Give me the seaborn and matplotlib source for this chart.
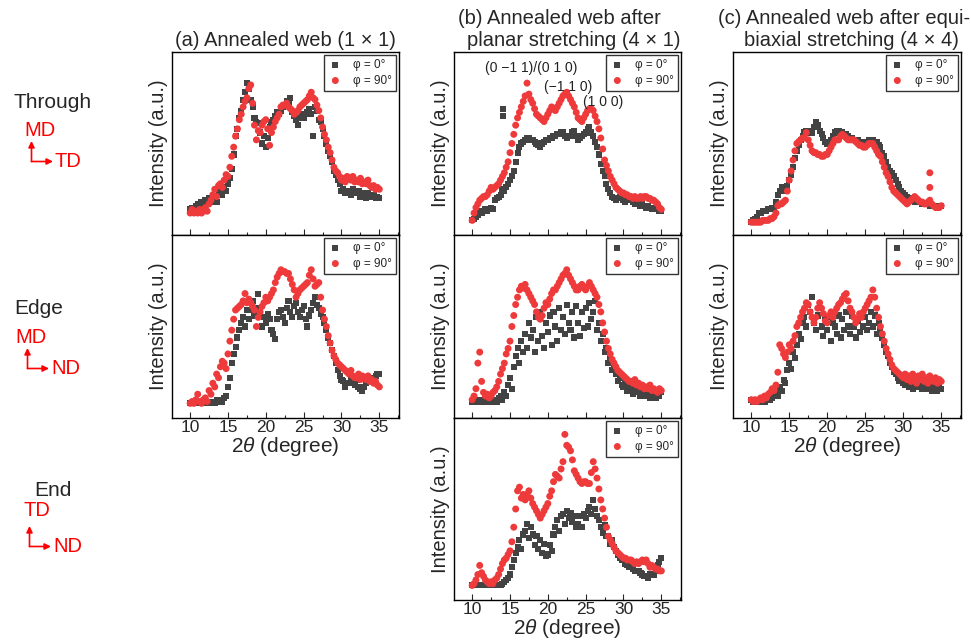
import numpy as np
import pandas as pd
import matplotlib
matplotlib.use("Agg")
import matplotlib.pyplot as plt
from matplotlib.patches import FancyArrowPatch
from matplotlib.ticker import MultipleLocator
import seaborn as sns

sns.set_style("ticks")
plt.rcParams['font.family'] = ['Liberation Sans', 'DejaVu Sans']
plt.rcParams['mathtext.fontset'] = 'custom'
plt.rcParams['mathtext.rm'] = 'Liberation Sans'
plt.rcParams['mathtext.it'] = 'Liberation Sans:italic'

# ---------------- data (intensity, arbitrary units) ----------------
a1_grey = [14,15,13,16,17,15,18,16,19,17,20,18,
           19,21,18,22,25,22,26,24,
           28,31,36,44, 54,58,64,68, 74,78,83,80, 74,70,64,62, 61,56,50,54,
           48,53,59,62, 63,65,67,66, 68,70,71,73, 72,75,67,65, 63,60,64,66,
           64,66,67,69, 66,54,70,68, 63,62,58,54, 50,46,43,40, 35,33,30,28,
           24,25,23,24, 24,22,25,23, 23,24,21,23, 22,20,23,21, 21,22,20,21, 20]
a1_red = [12,14,12,13,12,14,12,13,15,13,17,19,
          22,25,21,27,28,26,30,33,
          32,37,43,48, 54,58,63,66, 70,73,75,80, 82,72,60,52, 57,56,60,62,
          63,58,49,56, 59,62,64,66, 70,71,71,72, 70,69,68,66, 67,68,70,71,
          72,73,74,76, 78,75,74,71, 68,64,59,55, 52,48,45,41, 37,35,34,32,
          30,31,29,32, 31,30,32,29, 30,29,31,28, 29,28,30,27, 26,27,25,26, 25]
a2_grey = [8,8,9,8,8,9,8,8,9,8,8,9,
           9,8,10,9,10,9,11,12,
           17,22,30,35, 39,44,48,52, 55,50,59,54, 59,64,56,60, 68,58,50,55,
           52,57,54,48, 46,43,54,58, 59,55,52,60, 64,58,55,61, 63,58,55,59,
           61,54,50,56, 59,63,66,62, 60,57,55,52, 48,44,41,37, 34,30,26,23,
           21,20,17,19, 19,21,20,18, 21,17,16,15, 17,19,21,20, 21,22,23,24, 24]
a2_red = [8,9,8,10,13,9,8,10,11,9,15,13,
          19,17,24,22,28,31,30,27,
          35,42,48,54, 59,60,61,62, 64,68,63,65, 63,61,59,50, 55,58,61,63,
          66,64,66,68, 70,74,77,79, 81,80,80,79, 79,76,73,70, 66,68,70,71,
          72,73,74,78, 81,76,72,73, 74,66,59,54, 50,45,41,37, 34,32,30,29,
          28,27,26,25, 24,26,23,22, 22,24,21,23, 22,21,23,20, 21,19,20,18, 17]
b1_grey = [8,9,10,11,13,12,13,14,13,14,15,14,
           19,20,21,22,25,24,26,28,
           30,32,35,40, 45,48,50,51, 52,53,53,52, 52,51,50,49, 48,50,51,52,
           52,53,53,54, 54,55,55,56, 56,54,53,54, 54,56,57,54, 52,53,54,55,
           56,58,59,56, 54,51,48,44, 39,35,32,28, 25,23,21,20, 19,20,21,20,
           19,18,19,20, 19,18,17,18, 17,16,17,16, 15,16,15,14, 14,15,14,13, 13]
b1_grey_extra_x = [14.1, 14.1]
b1_grey_extra_y = [69, 65]
b1_red = [8,12,15,17,19,20,21,21,22,24,26,25,
          26,27,28,30,32,34,37,40,
          45,50,55,60, 64,67,70,73, 76,83,77,74, 72,69,66,65, 64,63,62,64,
          66,68,70,69, 68,70,72,74, 76,77,78,76, 74,72,70,67, 64,63,62,64,
          66,68,69,69, 68,65,62,58, 53,47,41,38, 35,32,30,28, 26,25,24,23,
          23,22,22,21, 21,20,21,20, 20,21,20,21, 21,20,20,19, 19,18,17,15, 14]
b2_grey = [9,9,10,9,9,10,9,9,10,9,10,9,
           10,9,11,12,10,14,12,18,
           22,16,28,34, 38,30,42,36, 46,38,52,44, 48,36,55,42, 58,45,38,52,
           47,56,40,58, 50,42,60,48, 55,46,62,52, 48,58,44,61, 52,45,58,49,
           60,50,63,54, 58,64,48,52, 42,46,36,38, 30,33,26,28, 24,20,22,18,
           17,20,15,18, 16,13,17,14, 15,12,16,13, 12,15,11,14, 13,11,15,12, 14]
b2_red = [10,12,16,30,36,20,14,12,13,11,12,14,
          15,17,20,24,27,30,35,38,
          42,50,56,62, 66,70,72,71, 73,70,68,66, 64,62,58,55, 54,56,60,63,
          62,65,68,70, 70,72,74,76, 78,79,81,78, 76,74,72,70, 70,72,73,71,
          70,72,74,72, 70,68,66,62, 58,52,47,42, 38,35,32,30, 28,26,25,24,
          23,22,21,20, 20,19,21,18, 19,17,18,16, 17,16,18,15, 16,15,14,16, 15]
b3_grey = [8,8,8,8,8,8,8,8,8,8,8,8,
           8,8,8,8,9,10,11,12,
           14,18,22,26, 29,33,28,36, 38,42,34,40, 36,30,35,28, 33,26,31,24,
           25,30,27,36, 40,44,38,46, 47,42,49,45, 48,43,46,40, 42,46,40,47,
           45,49,51,47, 55,50,46,44, 40,37,41,35, 35,31,33,29, 27,25,23,22,
           22,20,19,18, 18,17,16,16, 16,15,14,13, 13,12,14,14, 14,16,19,21, 23]
b3_red = [8,9,11,14,19,15,13,11,10,9,10,9,
          11,12,14,17,20,22,23,25,
          27,32,40,50, 60,62,56,58, 55,58,60,56, 53,51,49,47, 45,47,49,51,
          53,57,60,65, 69,68,67,72, 76,91,85,84, 82,77,71,69, 67,65,64,65,
          65,64,64,70, 76,72,67,61, 55,50,45,40, 35,33,31,29, 27,26,25,24,
          23,23,22,22, 22,21,20,21, 20,21,22,21, 22,20,18,19, 18,17,17,16, 16]
c1_grey = [7,8,9,10,12,12,13,13,13,14,14,15,
           15,18,22,24,26,25,24,27,
           30,33,37,42, 46,49,52,54, 56,57,57,56, 56,59,62,60, 57,55,53,51,
           50,51,52,54, 56,57,57,56, 56,55,55,54, 53,53,52,52, 52,51,51,50,
           50,51,52,52, 52,51,51,49, 48,45,43,40, 37,35,34,32, 30,28,26,24,
           23,22,21,20, 19,19,18,18, 18,18,17,17, 17,17,16,16, 16,16,16,16, 16]
c1_red = [7,7,7,7,7,7,8,8,8,8,9,9,
          10,12,16,17,17,18,19,24,
          30,35,41,46, 50,51,52,53, 53,56,52,49, 46,45,45,44, 44,43,43,44,
          44,46,48,50, 52,52,52,54, 55,54,53,52, 52,52,52,51, 50,49,49,48,
          48,49,50,50, 50,48,46,44, 43,40,37,34, 32,29,26,24, 23,22,21,20,
          19,18,17,18, 19,20,21,20, 19,18,18,17, 17,18,19,17, 16,15,15,15, 16]
c1_red_extra_x = [33.5, 33.5]
c1_red_extra_y = [34, 26]
c2_grey = [10,9,10,9,10,9,10,9,10,11,10,11,
           12,14,12,17,15,21,19,26,
           30,27,36,33, 40,46,43,52, 55,50,62,58, 66,52,48,56, 60,50,45,54,
           48,55,42,52, 50,46,56,44, 54,48,58,50, 46,56,50,44, 53,47,57,50,
           55,48,52,58, 50,56,46,52, 48,44,40,36, 34,30,28,25, 24,22,20,21,
           19,18,20,17, 18,16,19,17, 17,19,16,18, 16,18,17,15, 17,16,15,17, 16]
c2_red = [10,9,10,9,10,11,10,12,11,13,14,16,
          15,18,25,40,38,35,33,36,
          40,38,42,45, 50,52,55,58, 60,63,62,58, 55,52,55,60, 63,60,57,53,
          52,56,58,55, 58,60,62,63, 65,67,68,64, 60,58,55,52, 54,57,55,58,
          60,62,64,66, 70,66,60,55, 50,46,42,38, 35,32,29,27, 26,25,24,23,
          22,24,21,23, 20,24,22,19, 23,21,24,20, 22,19,23,21, 20,22,19,21, 20]

xlabels_ticks = [10, 15, 20, 25, 30, 35]
legend_labels = ["φ = 0°", "φ = 90°"]

# ---------------- figure layout ----------------
W, H = 971, 641
fig = plt.figure(figsize=(W / 100, H / 100), dpi=100)

def px_axes(x0, y0, x1, y1):
    return fig.add_axes([x0 / W, 1 - y1 / H, (x1 - x0) / W, (y1 - y0) / H])

col_x = [(172, 399), (454, 681), (733, 961)]
row_y = [(52, 235), (235, 418), (418, 600)]

panels = [
    (0, 0, a1_grey, a1_red, None, None),
    (0, 1, a2_grey, a2_red, None, None),
    (1, 0, b1_grey, b1_red, (b1_grey_extra_x, b1_grey_extra_y), None),
    (1, 1, b2_grey, b2_red, None, None),
    (1, 2, b3_grey, b3_red, None, None),
    (2, 0, c1_grey, c1_red, None, (c1_red_extra_x, c1_red_extra_y)),
    (2, 1, c2_grey, c2_red, None, None),
]
bottom_row = {0: 1, 1: 2, 2: 1}

GREY = "#434343"
RED = "#EE3A3A"

axes = {}
for col, row, g, r, gx, rx in panels:
    x0, x1 = col_x[col]
    y0, y1 = row_y[row]
    ax = px_axes(x0, y0, x1, y1)
    axes[(col, row)] = ax
    xg = list(np.linspace(10, 35, len(g)))
    yg = list(g)
    if gx is not None:
        xg += gx[0]; yg += gx[1]
    xr = list(np.linspace(10, 35, len(r)))
    yr = list(r)
    if rx is not None:
        xr += rx[0]; yr += rx[1]
    dg = pd.DataFrame({"x": xg, "y": yg})
    dr = pd.DataFrame({"x": xr, "y": yr})
    sns.scatterplot(data=dg, x="x", y="y", ax=ax, marker="s", s=19, color=GREY,
                    edgecolor="none", linewidth=0, label=legend_labels[0], zorder=2)
    sns.scatterplot(data=dr, x="x", y="y", ax=ax, marker="o", s=25, color=RED,
                    edgecolor="none", linewidth=0, label=legend_labels[1], zorder=3)
    ax.set_xlim(7.6, 37.6)
    ax.set_ylim(0, 100)
    ax.set_xticks(xlabels_ticks)
    ax.xaxis.set_minor_locator(MultipleLocator(2.5))
    ax.set_yticks([])
    ax.tick_params(axis="x", which="major", direction="in", length=4, width=0.8,
                   labelsize=12.5, pad=1.5, top=False)
    ax.tick_params(axis="x", which="minor", direction="in", length=2, width=0.8, top=False)
    for sp in ax.spines.values():
        sp.set_visible(True)
        sp.set_linewidth(1.0)
        sp.set_color("black")
    ax.set_ylabel("Intensity (a.u.)", fontsize=14.5, labelpad=3)
    if row == bottom_row[col]:
        ax.set_xlabel(r"2$\theta$ (degree)", fontsize=15, labelpad=0)
    else:
        ax.set_xlabel("")
        ax.tick_params(axis="x", labelbottom=False)
    leg = ax.legend(loc="upper right", fontsize=8.5, frameon=True, fancybox=False,
                    edgecolor="black", borderaxespad=0.25, handletextpad=0.9,
                    borderpad=0.35, labelspacing=0.3, handlelength=1.2)
    leg.get_frame().set_linewidth(1.0)

# peak annotations in panel (b) top
axb = axes[(1, 0)]
peak_labels = ["(0 \u22121 1)/(0 1 0)", "(\u22121 1 0)", "(1 0 0)"]
peak_x = [17.8, 22.7, 27.3]
peak_y = [91.5, 81, 72.5]
for t, px, py in zip(peak_labels, peak_x, peak_y):
    axb.text(px, py, t, fontsize=10, ha="center", va="center", color="#222222")

def ftext(x, y, s, **kw):
    fig.text(x / W, 1 - y / H, s, **kw)

# column titles
TS = 14.5
ftext(285, 41, "(a) Annealed web (1 \u00d7 1)", fontsize=TS, ha="center", va="center")
ftext(559, 18, "(b) Annealed web after", fontsize=TS, ha="center", va="center")
ftext(574, 41, "planar stretching (4 \u00d7 1)", fontsize=TS, ha="center", va="center")
ftext(844, 18, "(c) Annealed web after equi-", fontsize=TS, ha="center", va="center")
ftext(851, 41, "biaxial stretching (4 \u00d7 4)", fontsize=TS, ha="center", va="center")

# row labels with direction arrows
def direction(label, lx, ly, up, ux, uy, right, rx, ry, cx, cy, top_y, right_x):
    ftext(lx, ly, label, fontsize=15, ha="center", va="center")
    ftext(ux, uy, up, fontsize=14.5, ha="center", va="center", color="red")
    ftext(rx, ry, right, fontsize=14.5, ha="center", va="center", color="red")
    for (ex, ey) in [(cx, top_y), (right_x, cy)]:
        fig.add_artist(FancyArrowPatch((cx / W, 1 - cy / H), (ex / W, 1 - ey / H),
                                       transform=fig.transFigure, arrowstyle="-|>",
                                       mutation_scale=9, color="red", lw=1.2,
                                       shrinkA=0, shrinkB=0))

direction("Through", 53, 103, "MD", 40, 131, "TD", 68, 162, 31.5, 161.5, 141, 53)
direction("Edge", 39, 308, "MD", 31, 338, "ND", 66, 369, 27.5, 368.5, 348, 49)
direction("End", 53, 490, "TD", 37, 511, "ND", 68, 547, 29.5, 546.5, 526, 51)

fig.savefig("out.png", dpi=100)
